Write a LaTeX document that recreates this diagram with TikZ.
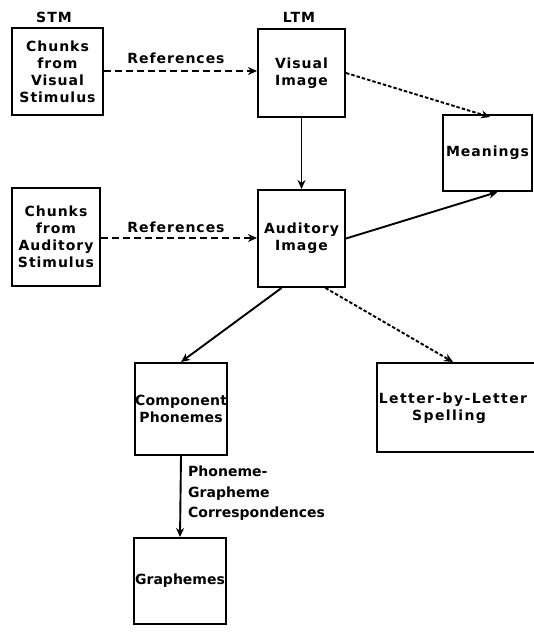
\documentclass[tikz,border=0pt]{standalone}
\usepackage{fontspec}
\setmainfont{DejaVu Sans}[BoldFont={DejaVu Sans Bold}]
\usetikzlibrary{arrows.meta}
\newcommand{\lsfont}[1]{\fontsize{14}{17}\selectfont\bfseries\addfontfeatures{LetterSpace=#1}}
\begin{document}
\begin{tikzpicture}[x=1pt,y=-1pt,
  every node/.style={font=\lsfont{7}},
  box/.style={draw,line width=2pt,inner sep=0pt,align=center},
  conn/.style={line width=1.9pt,-{Stealth[length=9pt,width=8pt]}},
  refline/.style={conn,dash pattern=on 7pt off 4pt},
  dotline/.style={conn,dash pattern=on 3.5pt off 2pt},
  lbl/.style={inner sep=0pt}]
\useasboundingbox (0,0) rectangle (533,634);
% headings
\node[lbl] (stm) at (54,17) {STM};
\node[lbl] (ltm) at (299,17) {LTM};
% boxes
\node[box,minimum width=91pt,minimum height=87pt] (cv) at (57.5,71.5) {Chunks\\from\\Visual\\Stimulus};
\node[box,minimum width=88pt,minimum height=98pt] (ca) at (56,237) {Chunks\\from\\Auditory\\Stimulus};
\node[box,minimum width=87pt,minimum height=88pt] (vis) at (301.5,73) {Visual\\Image};
\node[box,minimum width=87pt,minimum height=97pt] (aud) at (301.5,238.5) {Auditory\\Image};
\node[box,minimum width=89pt,minimum height=76pt] (mean) at (487.5,153) {Meanings};
\node[box,minimum width=92pt,minimum height=92pt,font=\lsfont{1.5}] (comp) at (181,409) {Component\\Phonemes};
\node[box,minimum width=180pt,minimum height=89pt] (let) at (467,407.5) {};
\node[lbl,align=center,font=\lsfont{10}] (lettxt) at (453,408) {Letter-by-Letter\\\hspace*{-8pt}Spelling};
\node[box,minimum width=92pt,minimum height=86pt,font=\lsfont{0}] (graph) at (180,581) {Graphemes};
% labels
\node[lbl] (ref1) at (176,58) {References};
\node[lbl] (ref2) at (176,227) {References};
\node[lbl,anchor=north west,align=left,font=\fontsize{14}{20.5}\selectfont\bfseries] (pgc) at (188,466) {Phoneme-\\Grapheme\\Correspondences};
% connectors
\draw[refline] (cv.east |- 0,71) -- (vis.west |- 0,71);
\draw[refline] (ca.east |- 0,238) -- (aud.west |- 0,238);
\draw[dotline] (vis.east) -- (490,117);
\draw[conn] (vis.south) -- (aud.north);
\draw[conn] (aud.east) -- ([xshift=10pt]mean.south);
\draw[conn] ([xshift=-20pt]aud.south) -- (comp.north);
\draw[dotline] ([xshift=24pt]aud.south) -- (lettxt.center |- let.north);
\draw[conn] (comp.south) -- (graph.north);
\end{tikzpicture}
\end{document}
